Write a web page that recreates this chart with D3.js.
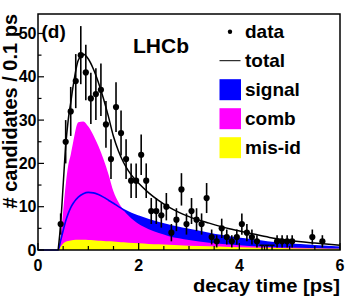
<!DOCTYPE html>
<html lang="en">
<head>
<meta charset="UTF-8">
<title>decay time fit (d)</title>
<style>
  * { margin: 0; padding: 0; }
  body { background: #fff; overflow: hidden; }
  svg { display: block; font-family: 'Liberation Sans', Arial, sans-serif; font-weight: bold; }
</style>
</head>
<body>
<svg width="358" height="300"></svg>
<script src="https://d3js.org/d3.v7.min.js"></script>
<script>
// data histogram: bin centres [ps] and counts
const binT = [0.45, 0.55, 0.65, 0.75, 0.85, 0.95, 1.05, 1.15, 1.25, 1.35, 1.45, 1.55, 1.65, 1.75, 1.85, 1.95,
  2.05, 2.15, 2.25, 2.35, 2.45, 2.55, 2.65, 2.75, 2.85, 2.95, 3.05, 3.15, 3.25, 3.35, 3.45, 3.55,
  3.65, 3.75, 3.85, 3.95, 4.05, 4.15, 4.25, 4.35, 4.75, 4.85, 4.95, 5.05, 5.45, 5.65];
const binN = [6, 25, 32, 39, 45, 41, 35, 36, 37, 29, 21, 33, 27, 21, 16, 16,
  22, 16, 9, 9, 8, 10, 4, 7, 14, 6, 9, 7, 6, 12, 3, 2,
  5, 3, 2, 3, 6, 4, 3, 2, 2, 2, 2, 2, 3, 2];
// empty bins that only show an upper error bar
const emptyT = [4.45, 4.55, 4.65];

// fit components, sampled at curveT
const curveT = [0, 0.4, 0.45, 0.5, 0.55, 0.6, 0.65, 0.7, 0.8, 0.9, 1.0, 1.1, 1.2, 1.3, 1.4, 1.5,
  1.6, 1.7, 1.8, 2.0, 2.2, 2.4, 2.6, 2.8, 3.0, 3.4, 3.8, 4.2, 4.6, 5.0, 5.5, 6.0];
const signalY = [0, 0, 2.2, 4.5, 6.7, 8.4, 9.8, 10.8, 12.2, 13.0, 13.3, 13.2, 12.8, 12.2, 11.5, 10.8,
  10.0, 9.3, 8.7, 7.8, 7.0, 6.3, 5.7, 5.2, 4.7, 3.8, 3.0, 2.4, 1.8, 1.35, 0.95, 0.65];
const combY = [0, 0, 3, 9, 15, 19.5, 22, 25, 29.5, 29.7, 28.5, 26.5, 24, 21, 17.5, 13.5,
  11, 9.2, 7.9, 6.0, 4.8, 3.9, 3.2, 2.7, 2.3, 1.7, 1.25, 0.95, 0.72, 0.55, 0.4, 0.28];
const misidY = [0, 0, 0.8, 1.5, 1.9, 2.1, 2.2, 2.3, 2.35, 2.35, 2.3, 2.25, 2.15, 2.1, 2.0, 1.95,
  1.85, 1.78, 1.7, 1.55, 1.4, 1.3, 1.2, 1.1, 1.0, 0.85, 0.7, 0.6, 0.5, 0.42, 0.33, 0.26];
const totalY = [0, 0, 6, 15, 24, 30, 34, 38, 43.8, 45.2, 44.1, 41.8, 38.7, 35, 30.8, 26.2,
  22.8, 20.2, 18.2, 15.4, 13.2, 11.4, 9.9, 8.7, 7.7, 6.2, 4.9, 3.9, 2.9, 2.2, 1.6, 1.1];

const xTickLabels = [0, 2, 4, 6];
const yTickLabels = [0, 10, 20, 30, 40, 50];
const legendItems = ['data', 'total', 'signal', 'comb', 'mis-id'];
const legendColors = { signal: '#0000ff', comb: '#ff00ff', 'mis-id': '#ffff00' };

const svg = d3.select('svg');
const x = d3.scaleLinear().domain([0, 6]).range([38, 340]);
const y = d3.scaleLinear().domain([0, 54.5]).range([250, 14]);

const pts = ys => curveT.map((t, i) => [t, ys[i]]);
const area = d3.area().x(d => x(d[0])).y0(y(0)).y1(d => y(d[1])).curve(d3.curveMonotoneX);
const line = d3.line().x(d => x(d[0])).y(d => y(d[1])).curve(d3.curveMonotoneX);

// filled components, each from zero
svg.append('path').attr('d', area(pts(signalY))).attr('fill', '#0000ff');
svg.append('path').attr('d', area(pts(combY))).attr('fill', '#ff00ff');
svg.append('path').attr('d', area(pts(misidY))).attr('fill', '#ffff00');
svg.append('path').attr('d', line(pts(signalY))).attr('fill', 'none')
  .attr('stroke', '#0000ff').attr('stroke-width', 1.6);
svg.append('path').attr('d', line(pts(totalY).slice(1))).attr('fill', 'none')
  .attr('stroke', '#000').attr('stroke-width', 1.5);

// data points with sqrt(N) errors
const g = svg.append('g');
binT.forEach((t, i) => {
  const n = binN[i], e = Math.sqrt(n);
  g.append('line').attr('x1', x(t)).attr('x2', x(t))
    .attr('y1', y(n - e)).attr('y2', y(Math.min(n + e, 54.5)))
    .attr('stroke', '#000').attr('stroke-width', 1.6);
  g.append('circle').attr('cx', x(t)).attr('cy', y(n)).attr('r', 3.1).attr('fill', '#000');
});
emptyT.forEach(t => {
  g.append('line').attr('x1', x(t)).attr('x2', x(t)).attr('y1', y(0)).attr('y2', y(1.1))
    .attr('stroke', '#000').attr('stroke-width', 1.4);
  g.append('line').attr('x1', x(t) - 2.5).attr('x2', x(t) + 2.5).attr('y1', y(1.1)).attr('y2', y(1.1))
    .attr('stroke', '#000').attr('stroke-width', 1.4);
});

// frame and ticks
svg.append('rect').attr('x', 38).attr('y', 14).attr('width', 302).attr('height', 236)
  .attr('fill', 'none').attr('stroke', '#000').attr('stroke-width', 1.5);
d3.range(0, 6.01, 0.5).forEach(t => {
  const major = xTickLabels.includes(t);
  svg.append('line').attr('x1', x(t)).attr('x2', x(t)).attr('y1', y(0)).attr('y2', y(0) - (major ? 7 : 4))
    .attr('stroke', '#000').attr('stroke-width', 1.2);
});
d3.range(0, 54, 5).forEach(v => {
  const major = v % 10 === 0;
  svg.append('line').attr('x1', x(0)).attr('x2', x(0) + (major ? 6 : 3.5)).attr('y1', y(v)).attr('y2', y(v))
    .attr('stroke', '#000').attr('stroke-width', 1.2);
});

svg.append('g').selectAll('text').data(xTickLabels).enter().append('text')
  .attr('x', d => x(d)).attr('y', 271).attr('text-anchor', 'middle')
  .attr('font-size', 16).text(d => d);
svg.append('g').selectAll('text').data(yTickLabels).enter().append('text')
  .attr('x', 36.5).attr('y', d => y(d) + 5.7).attr('text-anchor', 'end')
  .attr('font-size', 16).text(d => d);

svg.append('text').attr('x', 340).attr('y', 292).attr('text-anchor', 'end')
  .attr('font-size', 19).attr('textLength', 147).attr('lengthAdjust', 'spacingAndGlyphs')
  .text('decay time [ps]');
svg.append('text').attr('transform', 'translate(17,14) rotate(-90)').attr('text-anchor', 'end')
  .attr('font-size', 20).text('# candidates / 0.1 ps');

svg.append('text').attr('x', 41.5).attr('y', 38).attr('font-size', 19).text('(d)');
svg.append('text').attr('x', 133).attr('y', 53).attr('font-size', 21).text('LHCb');

// legend
legendItems.forEach((name, i) => {
  const cy = 31.7 + i * 29;
  if (name === 'data') {
    svg.append('circle').attr('cx', 230).attr('cy', cy).attr('r', 2.2).attr('fill', '#000');
  } else if (name === 'total') {
    svg.append('line').attr('x1', 219.5).attr('x2', 240.5).attr('y1', cy).attr('y2', cy)
      .attr('stroke', '#000').attr('stroke-width', 1);
  } else {
    svg.append('rect').attr('x', 219.5).attr('y', cy - 10.5).attr('width', 21.5).attr('height', 21)
      .attr('fill', legendColors[name]);
  }
  svg.append('text').attr('x', 245).attr('y', cy + 6).attr('font-size', 19).text(name);
});
</script>
</body>
</html>
